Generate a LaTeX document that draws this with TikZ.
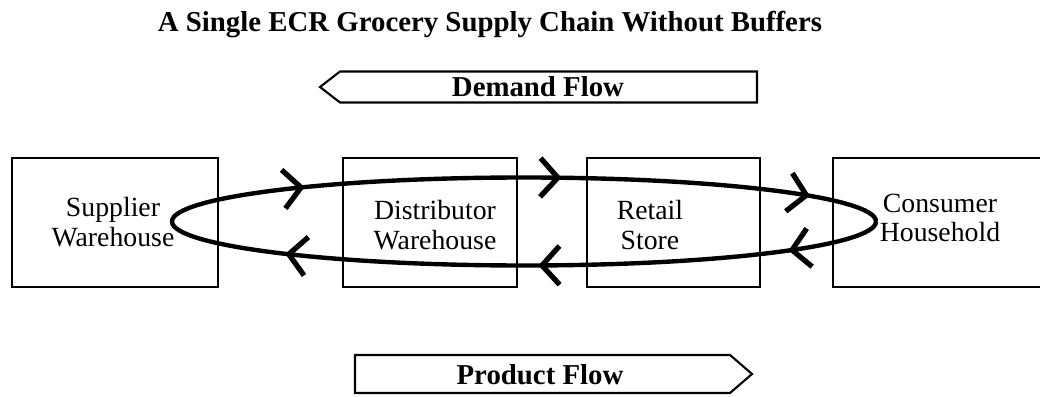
\documentclass[tikz,border=0pt]{standalone}
\usepackage{fontspec}
\setmainfont{Liberation Serif}
\usetikzlibrary{arrows.meta,decorations.markings}
\tikzset{barb/.tip={Straight Barb[length=10pt,width=22pt,line width=3pt]}}
\begin{document}
\begin{tikzpicture}[x=0.02cm,y=0.02cm,
  stage/.style={draw,line width=1.1pt,minimum height=2.58cm,minimum width=#1,inner sep=0pt},
  stagetxt/.style={align=center,inner sep=0pt,font=\fontsize{15.8}{17}\selectfont},
  flowtxt/.style={inner sep=0pt,font=\bfseries\fontsize{16.4}{18}\selectfont},
  flowline/.style={line width=1.2pt,line join=miter},
  cycleline/.style={line width=2.5pt,postaction={decorate},
    decoration={markings,
      mark=at position 0.066 with {\arrow{barb}},
      mark=at position 0.240 with {\arrow{barb}},
      mark=at position 0.416 with {\arrow{barb}},
      mark=at position 0.5975 with {\arrow{barb}},
      mark=at position 0.776 with {\arrow{barb}},
      mark=at position 0.949 with {\arrow{barb}}}}]
\clip (0,0) rectangle (1040,396);
% title
\node[flowtxt] (title) at (490,371.5) {A Single ECR Grocery Supply Chain Without Buffers};
% demand flow
\node[flowtxt] (demand) at (538,309) {Demand Flow};
\draw[flowline] (demand.center) ++(-218,0) -- ++(20,15.5) -- ++(417,0) -- ++(0,-31) -- ++(-417,0) -- cycle;
% the four stages
\node[stage=4.12cm] (sup) at (115,173.5) {};
\node[stage=3.48cm] (dist) at (430,173.5) {};
\node[stage=3.46cm] (ret) at (673.5,173.5) {};
\node[stage=4.54cm] (cons) at (946.5,173.5) {};
\node[stagetxt] (suptxt) at (113,174) {Supplier\\Warehouse};
\node[stagetxt] (disttxt) at (435,171) {Distributor\\Warehouse};
\node[stagetxt] (rettxt) at (650,171) {Retail\\Store};
\node[stagetxt] (constxt) at (940,178) {Consumer\\Household};
% loop through the chain
\coordinate (hub) at (524,174.5);
\draw[cycleline] (hub) ++(352,0) arc[start angle=0,end angle=-360,x radius=352,y radius=44];
% product flow
\node[flowtxt] (product) at (540,21) {Product Flow};
\draw[flowline] (product.center) ++(-185,20) -- ++(375,0) -- ++(22,-19) -- ++(-22,-19) -- ++(-375,0) -- cycle;
\end{tikzpicture}
\end{document}
